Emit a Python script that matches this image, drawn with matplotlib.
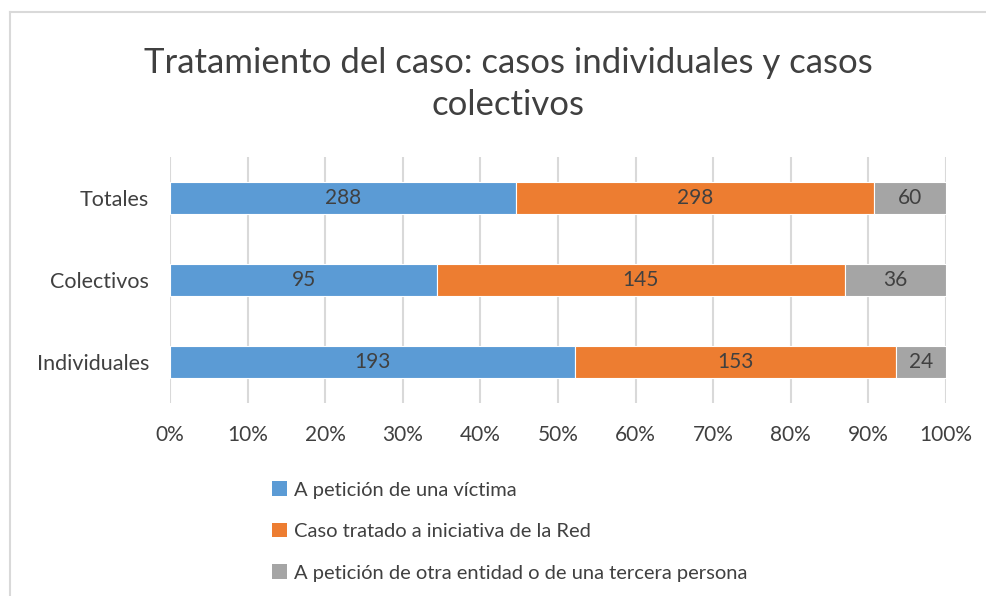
import matplotlib.pyplot as plt
import numpy as np
from matplotlib.lines import Line2D
from matplotlib.patches import Patch

plt.rcParams['font.family'] = ['Lato', 'DejaVu Sans']

# datos
categorias = ["Individuales", "Colectivos", "Totales"]
victima = [193, 95, 288]
red = [153, 145, 298]
tercera = [24, 36, 60]
series = ["A petición de una víctima",
          "Caso tratado a iniciativa de la Red",
          "A petición de otra entidad o de una tercera persona"]
colores = ["#5B9BD5", "#ED7D31", "#A5A5A5"]
titulo = "Tratamiento del caso: casos individuales y casos\ncolectivos"

texto = "#404040"

fig = plt.figure(figsize=(9.87, 5.96), dpi=100)
ax = fig.add_axes([170/987, 1 - 403/596, 776/987, 246/596])

valores = np.array([victima, red, tercera], dtype=float)
totales = valores.sum(axis=0)
pct = valores / totales
y = np.arange(len(categorias))

izq = np.zeros(len(categorias))
for i in range(3):
    ax.barh(y, pct[i], left=izq, height=0.39, color=colores[i],
            edgecolor="white", linewidth=0.8, zorder=3)
    for j in range(len(categorias)):
        ax.text(izq[j] + pct[i][j] / 2, y[j], str(int(valores[i][j])),
                ha="center", va="center", fontsize=15, color=texto, zorder=4)
    izq += pct[i]

ax.set_xlim(0, 1)
ax.set_ylim(-0.5, 2.5)
ax.set_yticks(y)
ax.set_yticklabels(categorias, fontsize=15.5, color=texto)
ax.set_xticks(np.arange(0, 1.01, 0.1))
ax.set_xticklabels([f"{int(round(v*100))}%" for v in np.arange(0, 1.01, 0.1)],
                   fontsize=15, color=texto)
ax.tick_params(length=0)
ax.tick_params(axis="x", pad=16)
ax.tick_params(axis="y", pad=15)
ax.grid(axis="x", color="#d9d9d9", linewidth=1.5, zorder=0)
for s in ax.spines.values():
    s.set_visible(False)

fig.text(508/987, 1 - 84/596, titulo, ha="center", va="center",
         fontsize=25, color=texto, linespacing=1.4)

handles = [Patch(facecolor=c, edgecolor="none") for c in colores]
fig.legend(handles, series, loc="upper left", bbox_to_anchor=(254/987, 1 - 463/596),
           frameon=False, fontsize=14.5, labelcolor=texto, handlelength=0.75,
           handleheight=0.75, handletextpad=0.35, labelspacing=1.2)

# marco
fig.add_artist(Line2D([10/987, 1], [1 - 12/596, 1 - 12/596], color="#d9d9d9", linewidth=1.5))
fig.add_artist(Line2D([10/987, 10/987], [0, 1 - 12/596], color="#d9d9d9", linewidth=1.5))

fig.savefig("out.png", dpi=100)
